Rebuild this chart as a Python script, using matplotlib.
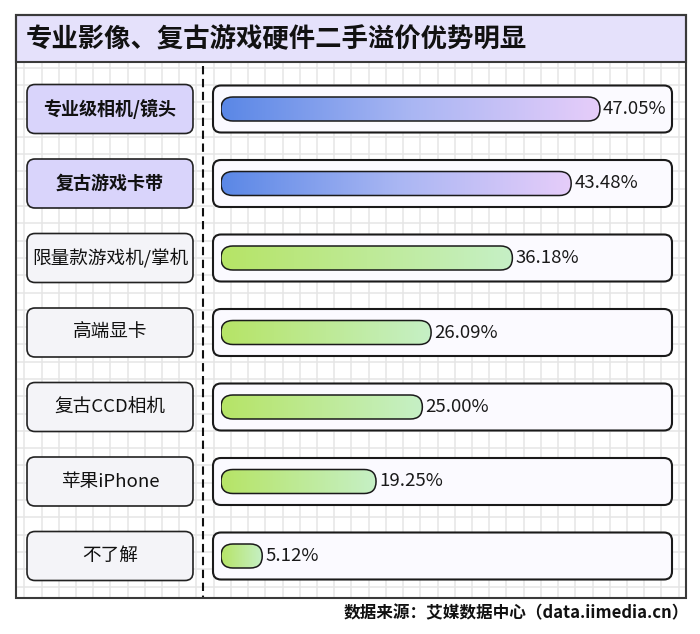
import numpy as np
import matplotlib
matplotlib.use('Agg')
import matplotlib.pyplot as plt
from matplotlib.patches import FancyBboxPatch, Rectangle
from matplotlib.colors import LinearSegmentedColormap

plt.rcParams['font.family'] = ['Noto Sans CJK SC', 'DejaVu Sans']

title = '专业影像、复古游戏硬件二手溢价优势明显'
source = '数据来源：艾媒数据中心（data.iimedia.cn）'
categories = ['专业级相机/镜头', '复古游戏卡带', '限量款游戏机/掌机', '高端显卡',
              '复古CCD相机', '苹果iPhone', '不了解']
values = [47.05, 43.48, 36.18, 26.09, 25.00, 19.25, 5.12]
highlight = [True, True, False, False, False, False, False]

blue_cmap = LinearSegmentedColormap.from_list('blue', ['#5a87e6', '#a9b6f3', '#e6cdfa'])
green_cmap = LinearSegmentedColormap.from_list('green', ['#b6e466', '#c6f0c6'])

W, H = 700, 634
fig = plt.figure(figsize=(7, 6.34), dpi=100)

# background axes in pixel units
bg = fig.add_axes([0, 0, 1, 1])
bg.set_xlim(0, W)
bg.set_ylim(H, 0)
bg.axis('off')

L, R, T, TB, B = 16, 686, 15, 62, 598
row0, step = 109, 74.5
px_per_pct = 8.054
x_bar0, x_bar1 = 221, 672

# grid
for x in np.arange(24.3, R, 17.22):
    bg.plot([x, x], [TB, B], color='#e5e5e5', lw=1.1, zorder=1)
for y in np.arange(67.6, B, 17.3):
    bg.plot([L, R], [y, y], color='#e5e5e5', lw=1.1, zorder=1)

# frame + title band
bg.add_patch(Rectangle((L, T), R - L, TB - T, facecolor='#e5e1fb',
                       edgecolor='#3a3a3a', lw=1.5, zorder=3))
bg.add_patch(Rectangle((L, T), R - L, B - T, fill=False,
                       edgecolor='#3a3a3a', lw=1.5, zorder=3))
bg.text(26, 39, title, fontsize=19, fontweight='bold', va='center', ha='left',
        color='#111111', zorder=4)

# dashed separator
bg.plot([202.5, 202.5], [TB + 4, B], color='#111111', lw=1.5,
        ls=(0, (4, 2.2)), zorder=2)

# row boxes
for i, (cat, hl) in enumerate(zip(categories, highlight)):
    yc = row0 + step * i
    bg.add_patch(FancyBboxPatch((27, yc - 24.5), 166, 49,
                                boxstyle='round,pad=0,rounding_size=8',
                                facecolor='#d9d4fb' if hl else '#f4f4f8',
                                edgecolor='#222222', lw=1.2, zorder=3))
    bg.text(110, yc, cat, fontsize=13 if hl else 13.4,
            fontweight='bold' if hl else 'normal',
            ha='center', va='center', color='#111111', zorder=4)
    bg.add_patch(FancyBboxPatch((213, yc - 23.5), 459, 47,
                                boxstyle='round,pad=0,rounding_size=8',
                                facecolor='#fbfaff', edgecolor='#1a1a1a',
                                lw=1.5, zorder=3))

bg.text(689, 613, source, fontsize=12, fontweight='bold', ha='right',
        va='center', color='#111111')

# bar axes (percent on x, row index on y)
bax = fig.add_axes([x_bar0 / W, (H - B) / H, (x_bar1 - x_bar0) / W, (B - TB) / H])
bax.patch.set_alpha(0)
bax.axis('off')
xmax = (x_bar1 - x_bar0) / px_per_pct
ymin, ymax = (B - row0) / step, (TB - row0) / step

bar_h = 24 / step
aspect = px_per_pct / step
radius = 11.9 / px_per_pct
grad = np.linspace(0, 1, 256).reshape(1, -1)

for i, (v, hl) in enumerate(zip(values, highlight)):
    patch = FancyBboxPatch((0, i - bar_h / 2), v, bar_h,
                           boxstyle=f'round,pad=0,rounding_size={radius}',
                           mutation_aspect=aspect, facecolor='none',
                           edgecolor='#1a1a1a', lw=1.1, zorder=3)
    bax.add_patch(patch)
    im = bax.imshow(grad, cmap=blue_cmap if hl else green_cmap,
                    extent=(0, v, i + bar_h / 2, i - bar_h / 2),
                    aspect='auto', interpolation='bilinear', zorder=2)
    im.set_clip_path(patch)
    bax.text(v + 3 / px_per_pct, i, f'{v:.2f}%', fontsize=13.4, ha='left',
             va='center', color='#1a1a1a', zorder=4)

bax.set_xlim(0, xmax)
bax.set_ylim(ymin, ymax)

fig.savefig('out.png', dpi=100)
